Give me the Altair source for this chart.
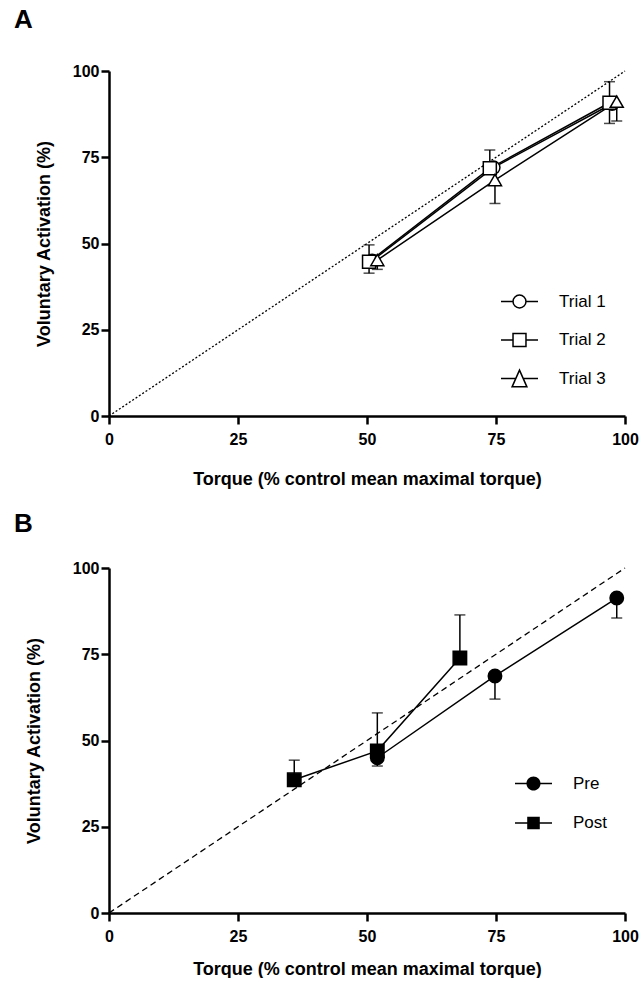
import altair as alt
import pandas as pd

FONT = "Liberation Sans"

# ---------------- data: panel A ----------------
trials = ["Trial 1", "Trial 2", "Trial 3"]
a_t1_x = [51.0, 74.5, 97.5]
a_t1_y = [45.0, 72.0, 90.5]
a_t2_x = [50.4, 73.8, 97.0]
a_t2_y = [44.7, 71.8, 90.8]
a_t2_lo = [41.4, 71.8, 84.8]
a_t2_hi = [49.6, 77.1, 96.9]
a_t3_x = [52.0, 74.8, 98.4]
a_t3_y = [45.2, 68.4, 91.1]
a_t3_lo = [42.5, 61.6, 85.5]
a_t3_hi = [45.2, 68.4, 91.1]

# ---------------- data: panel B ----------------
groups_b = ["Pre", "Post"]
pre_x = [52.0, 74.8, 98.4]
pre_y = [45.0, 68.7, 91.3]
pre_lo = [42.6, 62.0, 85.5]
post_x = [35.9, 52.0, 68.0]
post_y = [38.6, 47.0, 73.9]
post_hi = [44.3, 58.0, 86.4]

identity = [0, 100]
ticks = [0, 25, 50, 75, 100]
panel_labels = ["A", "B"]
x_title = "Torque (% control mean maximal torque)"
y_title = "Voluntary Activation (%)"


def rows(name, xs, ys, los, his):
    return [dict(series=name, x=x, y=y, lo=l, hi=h) for x, y, l, h in zip(xs, ys, los, his)]


def caps_of(df):
    out = []
    for _, r in df.iterrows():
        if r["lo"] < r["y"]:
            out.append(dict(series=r["series"], x=r["x"], cap=r["lo"]))
        if r["hi"] > r["y"]:
            out.append(dict(series=r["series"], x=r["x"], cap=r["hi"]))
    return pd.DataFrame(out)


dfA = pd.DataFrame(
    rows("Trial 1", a_t1_x, a_t1_y, a_t1_y, a_t1_y)
    + rows("Trial 2", a_t2_x, a_t2_y, a_t2_lo, a_t2_hi)
    + rows("Trial 3", a_t3_x, a_t3_y, a_t3_lo, a_t3_hi)
)
dfB = pd.DataFrame(
    rows("Pre", pre_x, pre_y, pre_lo, pre_y)
    + rows("Post", post_x, post_y, post_y, post_hi)
)

# legend glyphs: symbol with a short line on each side (open symbols, stroked)
legend_paths_A = [
    "M-1,0L-0.35,0M0.35,0L1,0M0.35,0A0.35,0.35,0,1,1,-0.35,0A0.35,0.35,0,1,1,0.35,0Z",
    "M-1,0L-0.35,0M0.35,0L1,0M-0.35,-0.35L0.35,-0.35L0.35,0.35L-0.35,0.35Z",
    "M-1,0L-0.2,0M0.2,0L1,0M0,-0.45L0.4,0.45L-0.4,0.45Z",
]
# filled symbols: side lines drawn as thin filled bars
legend_paths_B = [
    "M-1,-0.04L-0.36,-0.04L-0.36,0.04L-1,0.04ZM0.36,-0.04L1,-0.04L1,0.04L0.36,0.04Z"
    "M0.38,0A0.38,0.38,0,1,1,-0.38,0A0.38,0.38,0,1,1,0.38,0Z",
    "M-1,-0.04L-0.34,-0.04L-0.34,0.04L-1,0.04ZM0.34,-0.04L1,-0.04L1,0.04L0.34,0.04Z"
    "M-0.34,-0.34L0.34,-0.34L0.34,0.34L-0.34,0.34Z",
]


def panel(df, domain, shapes, legend_paths, fill, leg_filled, psize, dash, lx, ly,
          letter, letter_y, ytp, xtp):
    sc = alt.Scale(domain=[0, 100], nice=False, zero=False)
    xenc = alt.X("x:Q", scale=sc, axis=alt.Axis(values=ticks, title=x_title, titlePadding=xtp))
    yax = alt.Axis(values=ticks, title=y_title, titlePadding=ytp)
    yenc = alt.Y("y:Q", scale=sc, axis=yax)
    ycap = alt.Y("cap:Q", scale=sc, axis=yax)
    ylo = alt.Y("lo:Q", scale=sc, axis=yax)

    ident = alt.Chart(pd.DataFrame({"x": identity, "y": identity})).mark_line(
        color="black", strokeWidth=1.3, strokeDash=dash
    ).encode(x=xenc, y=yenc)

    lines = alt.Chart(df).mark_line(color="black", strokeWidth=1.5).encode(
        x=xenc, y=yenc, detail="series:N", order="x:Q"
    )
    rules = alt.Chart(df).mark_rule(color="black", strokeWidth=1.5).encode(
        x=xenc, y=ylo, y2="hi:Q"
    )
    caps = alt.Chart(caps_of(df)).mark_tick(
        orient="horizontal", color="black", thickness=1.5, size=11
    ).encode(x=xenc, y=ycap)
    pts = alt.Chart(df).mark_point(
        filled=True, color=fill, fill=fill, stroke="black", strokeWidth=1.5,
        opacity=1, size=psize
    ).encode(
        x=xenc, y=yenc,
        shape=alt.Shape("series:N", scale=alt.Scale(domain=domain, range=shapes), legend=None),
    )
    leg = alt.Chart(df).transform_filter("false").mark_point(
        filled=leg_filled, color="black", strokeWidth=1.5, opacity=1, size=1369
    ).encode(
        shape=alt.Shape(
            "series:N",
            scale=alt.Scale(domain=domain, range=legend_paths),
            legend=alt.Legend(
                title=None, orient="none", legendX=lx, legendY=ly, padding=0,
                labelFont=FONT, labelFontSize=17, labelColor="black",
                labelFontWeight="normal", labelOffset=20, rowPadding=9.5,
                symbolSize=1369, symbolStrokeWidth=1.5, symbolOpacity=1,
            ),
        )
    )
    lab = alt.Chart(pd.DataFrame({"t": [letter]})).mark_text(
        align="left", baseline="top", font=FONT, fontSize=26, fontWeight="bold",
        color="black"
    ).encode(text="t:N", x=alt.value(-95), y=alt.value(letter_y))

    return alt.layer(ident, lines, rules, caps, pts, leg, lab).resolve_scale(
        shape="independent"
    ).properties(width=516, height=345)


chartA = panel(dfA, trials, ["circle", "square", "triangle-up"], legend_paths_A,
               "white", False, 170, [2, 2], 391, 211, panel_labels[0], -64, 19, 23)
chartB = panel(dfB, groups_b, ["circle", "square"], legend_paths_B,
               "black", True, 180, [6, 4], 405, 196, panel_labels[1], -57, 29, 16)

chart = alt.vconcat(chartA, chartB, spacing=152, bounds="flush").properties(
    padding={"left": 14, "top": 7, "right": 2, "bottom": 0}
).configure_view(stroke=None).configure_axis(
    domainColor="black", domainWidth=2.5, tickColor="black", tickWidth=2.5,
    tickSize=8, grid=False, labelFont=FONT, labelFontSize=16,
    labelFontWeight="bold", labelColor="black", labelPadding=2,
    labelFlush=False, labelOverlap=False,
    titleFont=FONT, titleFontSize=18, titleFontWeight="bold", titleColor="black",
).configure_axisX(labelPadding=7)

chart.save("out.html", embed_options={"renderer": "svg", "actions": False})
